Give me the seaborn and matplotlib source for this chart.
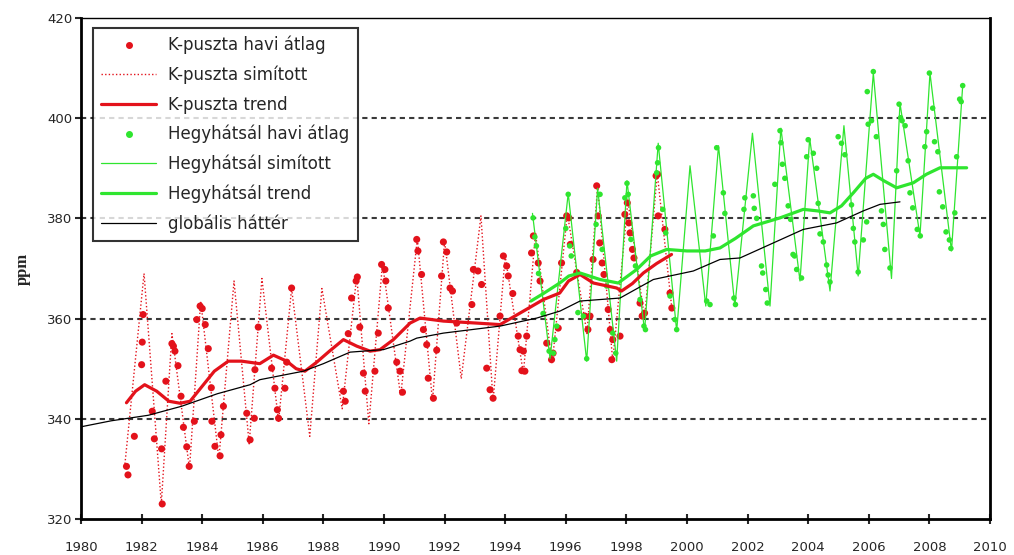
import numpy as np
import pandas as pd
import seaborn as sns
import matplotlib
matplotlib.use("Agg")
import matplotlib.pyplot as plt
from matplotlib.lines import Line2D

# ---------------- K-puszta ----------------
kp_month_t = [1981.50, 1981.55, 1981.76, 1982.00, 1982.02, 1982.05, 1982.35, 1982.42, 1982.66, 1982.68,
              1982.80, 1983.00, 1983.05, 1983.10, 1983.20, 1983.30, 1983.38, 1983.49, 1983.57, 1983.74,
              1983.82, 1983.93, 1984.00, 1984.10, 1984.20, 1984.30, 1984.32, 1984.42, 1984.59, 1984.62,
              1984.70, 1985.47, 1985.58, 1985.72, 1985.74, 1985.85, 1986.29, 1986.40, 1986.48, 1986.52,
              1986.73, 1986.79, 1986.95, 1988.66, 1988.72, 1988.82, 1988.93, 1989.08, 1989.12, 1989.20,
              1989.32, 1989.38, 1989.70, 1989.81, 1989.92, 1990.03, 1990.06, 1990.14, 1990.42, 1990.53,
              1990.61, 1991.08, 1991.12, 1991.24, 1991.30, 1991.41, 1991.46, 1991.63, 1991.74, 1991.90,
              1991.96, 1992.07, 1992.18, 1992.26, 1992.40, 1992.90, 1992.95, 1993.10, 1993.22, 1993.39,
              1993.50, 1993.60, 1993.83, 1993.94, 1994.05, 1994.10, 1994.25, 1994.43, 1994.49, 1994.55,
              1994.60, 1994.65, 1994.71, 1994.87, 1994.93, 1995.09, 1995.15, 1995.37, 1995.53, 1995.58,
              1995.75, 1995.86, 1996.03, 1996.10, 1996.15, 1996.36, 1996.63, 1996.73, 1996.80, 1996.90,
              1997.02, 1997.07, 1997.12, 1997.20, 1997.26, 1997.40, 1997.47, 1997.52, 1997.55, 1997.79,
              1997.95, 1998.03, 1998.08, 1998.12, 1998.20, 1998.25, 1998.45, 1998.52, 1998.60, 1998.98,
              1999.03, 1999.05, 1999.27, 1999.44, 1999.50]
kp_month_ppm = [330.5, 328.8, 336.5, 350.8, 355.3, 360.8, 341.5, 336.0, 334.0, 323.0,
                347.5, 355.0, 354.5, 353.5, 350.6, 344.5, 338.3, 334.4, 330.5, 339.5,
                359.8, 362.5, 362.0, 358.8, 354.0, 346.2, 339.5, 334.5, 332.6, 336.8,
                342.5, 341.1, 335.8, 340.1, 349.8, 358.3, 350.1, 346.1, 341.8, 340.1,
                346.1, 351.3, 366.1, 345.5, 343.5, 357.0, 364.1, 367.5, 368.3, 358.3,
                349.1, 345.5, 349.5, 357.1, 370.8, 369.8, 367.5, 362.1, 351.3, 349.5,
                345.3, 375.8, 373.5, 368.8, 357.8, 354.8, 348.1, 344.1, 353.7, 368.5,
                375.3, 373.3, 366.1, 365.5, 359.1, 362.8, 369.8, 369.5, 366.8, 350.1,
                345.8, 344.1, 360.5, 372.5, 370.5, 368.5, 365.0, 356.5, 353.8, 349.6,
                353.5, 349.5, 356.5, 373.1, 376.5, 371.1, 367.5, 355.1, 351.8, 353.1,
                358.1, 371.1, 380.5, 380.1, 374.8, 369.2, 360.5, 357.8, 360.5, 371.8,
                386.5, 380.5, 375.1, 371.1, 368.8, 361.8, 357.8, 351.8, 355.8, 356.5,
                380.8, 383.1, 379.1, 377.1, 373.8, 372.1, 363.1, 360.5, 361.1, 388.5,
                388.8, 380.5, 377.8, 365.1, 362.1]

kp_smooth_t = [1981.45, 1982.08, 1982.65, 1983.00, 1983.58, 1983.95, 1984.55, 1985.05, 1985.55, 1985.97,
               1986.52, 1986.95, 1987.55, 1987.95, 1988.62, 1989.10, 1989.50, 1989.95, 1990.55, 1991.10,
               1991.60, 1992.00, 1992.55, 1993.20, 1993.60, 1994.00, 1994.60, 1995.00, 1995.55, 1996.05,
               1996.70, 1997.05, 1997.55, 1998.05, 1998.60, 1999.02, 1999.50]
kp_smooth_ppm = [331.0, 369.0, 323.0, 357.0, 330.0, 363.5, 332.0, 367.5, 335.0, 368.0,
                 339.5, 366.0, 336.5, 366.0, 342.0, 368.5, 339.0, 371.0, 344.5, 376.0,
                 343.5, 375.5, 348.0, 380.5, 343.5, 372.5, 349.0, 377.0, 351.0, 381.0,
                 357.0, 386.5, 351.5, 383.5, 360.0, 389.0, 362.0]

kp_trend_t = [1981.50, 1981.80, 1982.10, 1982.50, 1982.90, 1983.27, 1983.60, 1984.00, 1984.40, 1984.86,
              1985.30, 1985.90, 1986.35, 1986.79, 1987.10, 1987.39, 1987.78, 1988.20, 1988.66, 1989.10,
              1989.54, 1989.87, 1990.31, 1990.86, 1991.19, 1991.96, 1993.06, 1993.83, 1994.49, 1995.26,
              1995.80, 1996.09, 1996.47, 1996.91, 1997.68, 1997.84, 1998.20, 1998.56, 1999.00, 1999.49]
kp_trend_ppm = [343.2, 345.5, 346.8, 345.5, 343.5, 343.1, 343.5, 346.5, 349.5, 351.5,
                351.5, 351.0, 352.7, 351.5, 350.0, 349.5, 351.3, 353.5, 355.8, 354.5,
                353.5, 353.8, 355.8, 359.1, 360.1, 359.5, 359.1, 358.8, 361.1, 363.8,
                365.1, 367.5, 368.8, 367.1, 366.1, 365.5, 367.0, 369.1, 371.0, 372.8]

# ---------------- Hegyhátsál ----------------
hh_month_t = [1994.92, 1994.98, 1995.03, 1995.10, 1995.25, 1995.45, 1995.59, 1995.64, 1995.70, 1996.00,
              1996.08, 1996.13, 1996.18, 1996.40, 1996.58, 1996.69, 1997.00, 1997.13, 1997.20, 1997.35,
              1997.55, 1997.65, 1997.95, 1998.02, 1998.06, 1998.15, 1998.30, 1998.45, 1998.58, 1998.63,
              1999.00, 1999.03, 1999.06, 1999.20, 1999.30, 1999.44, 1999.60, 1999.66, 2000.65, 2000.76,
              2000.87, 2000.98, 2001.20, 2001.25, 2001.55, 2001.60, 2001.88, 2001.91, 2002.19, 2002.22,
              2002.30, 2002.46, 2002.50, 2002.60, 2002.65, 2002.90, 2003.07, 2003.10, 2003.15, 2003.23,
              2003.34, 2003.42, 2003.50, 2003.55, 2003.62, 2003.78, 2003.95, 2004.00, 2004.17, 2004.28,
              2004.33, 2004.39, 2004.50, 2004.61, 2004.66, 2004.72, 2004.99, 2005.10, 2005.21, 2005.43,
              2005.49, 2005.54, 2005.65, 2005.82, 2005.93, 2005.95, 2005.98, 2006.09, 2006.15, 2006.25,
              2006.42, 2006.48, 2006.53, 2006.70, 2006.92, 2007.00, 2007.05, 2007.10, 2007.20, 2007.30,
              2007.36, 2007.45, 2007.60, 2007.70, 2007.85, 2007.91, 2008.00, 2008.11, 2008.17, 2008.28,
              2008.33, 2008.44, 2008.55, 2008.66, 2008.71, 2008.84, 2008.90, 2009.00, 2009.05, 2009.10]
hh_month_ppm = [380.1, 376.3, 374.5, 369.0, 361.0, 353.5, 353.1, 355.8, 358.5, 378.0,
                384.8, 374.5, 372.5, 361.2, 360.5, 352.0, 378.8, 384.8, 373.8, 366.5,
                357.1, 353.1, 384.1, 387.0, 384.8, 375.8, 370.5, 363.8, 358.5, 357.8,
                389.1, 391.1, 394.1, 381.8, 377.1, 364.5, 359.8, 357.8, 363.5, 362.8,
                376.5, 394.1, 385.1, 381.0, 364.1, 362.8, 381.8, 384.1, 384.5, 382.0,
                380.0, 370.5, 369.1, 365.8, 363.1, 386.8, 397.5, 395.1, 390.8, 388.0,
                382.5, 379.8, 372.8, 372.5, 369.8, 368.1, 392.3, 395.7, 393.0, 390.0,
                383.0, 376.9, 375.3, 370.7, 368.7, 367.3, 396.3, 395.0, 392.7, 382.7,
                378.0, 375.3, 369.3, 375.7, 379.3, 405.3, 398.8, 399.5, 409.3, 396.3,
                381.5, 378.8, 373.8, 370.1, 389.5, 402.8, 400.1, 399.5, 398.5, 391.5,
                385.1, 382.1, 377.8, 376.5, 394.3, 397.3, 409.0, 402.0, 395.3, 393.3,
                385.3, 382.3, 377.3, 375.7, 374.0, 381.1, 392.3, 403.8, 403.3, 406.5]

hh_smooth_t = [1994.90, 1995.48, 1996.08, 1996.69, 1997.05, 1997.68, 1998.02, 1998.60, 1999.05, 1999.66,
               2000.10, 2000.62, 2001.04, 2001.58, 2002.16, 2002.74, 2003.10, 2003.73, 2004.05, 2004.72,
               2005.18, 2005.65, 2006.15, 2006.75, 2007.03, 2007.69, 2008.02, 2008.73, 2009.10]
hh_smooth_ppm = [381.0, 352.0, 385.0, 351.5, 386.0, 351.5, 387.5, 357.5, 395.0, 357.5,
                 390.5, 362.5, 394.5, 362.5, 397.0, 362.5, 398.0, 367.5, 396.0, 365.5,
                 398.5, 368.5, 409.0, 368.0, 403.0, 376.5, 409.0, 373.5, 406.5]

hh_trend_t = [1994.85, 1995.26, 1995.80, 1996.10, 1996.47, 1997.13, 1997.73, 1998.34, 1998.80, 1999.33,
              2000.00, 2000.60, 2001.09, 2001.60, 2002.19, 2003.07, 2003.84, 2004.30, 2004.72, 2005.10,
              2005.49, 2005.90, 2006.15, 2006.50, 2006.92, 2007.47, 2007.90, 2008.35, 2009.23]
hh_trend_ppm = [363.5, 365.0, 367.1, 368.5, 369.1, 367.8, 367.1, 369.8, 372.5, 373.8,
                373.5, 373.5, 374.1, 376.0, 378.5, 380.1, 381.8, 381.5, 381.1, 382.5,
                385.1, 388.0, 388.8, 387.5, 386.1, 387.1, 388.8, 390.1, 390.1]

# ---------------- global background ----------------
glob_t = [1980.00, 1981.00, 1982.22, 1983.32, 1984.50, 1985.58, 1985.90, 1987.34, 1988.00, 1988.88,
          1989.98, 1990.86, 1991.08, 1991.96, 1993.83, 1995.04, 1995.81, 1996.47, 1997.79, 1998.89,
          2000.21, 2001.09, 2001.75, 2002.74, 2003.84, 2004.94, 2005.82, 2006.37, 2007.03]
glob_ppm = [338.4, 339.6, 340.7, 342.5, 345.0, 346.8, 347.8, 349.5, 351.0, 353.3,
            353.8, 355.5, 356.1, 357.1, 358.5, 360.1, 361.5, 363.5, 364.1, 367.8,
            369.5, 371.8, 372.1, 374.8, 377.8, 379.1, 381.5, 382.8, 383.3]

labels = ["K-puszta havi átlag", "K-puszta simított", "K-puszta trend",
          "Hegyhátsál havi átlag", "Hegyhátsál simított", "Hegyhátsál trend",
          "globális háttér"]
x_ticks = list(range(1980, 2011, 2))
y_ticks = list(range(320, 421, 20))
grid_levels = [340, 360, 380, 400]

RED = "#e3121b"
GREEN = "#2fe52f"

sns.set_theme(style="white")
plt.rcParams["font.family"] = ["DejaVu Sans"]

fig = plt.figure(figsize=(10.14, 5.55), dpi=100)
ax = fig.add_axes([0.0799, 0.0649, 0.8964, 0.9027])

for lvl in grid_levels:
    ax.axhline(lvl, color="#3a3a3a", linewidth=1.5, linestyle=(0, (2.5, 2)), zorder=1)

kp_m = pd.DataFrame({"t": kp_month_t, "ppm": kp_month_ppm})
kp_s = pd.DataFrame({"t": kp_smooth_t, "ppm": kp_smooth_ppm})
kp_r = pd.DataFrame({"t": kp_trend_t, "ppm": kp_trend_ppm})
hh_m = pd.DataFrame({"t": hh_month_t, "ppm": hh_month_ppm})
hh_s = pd.DataFrame({"t": hh_smooth_t, "ppm": hh_smooth_ppm})
hh_r = pd.DataFrame({"t": hh_trend_t, "ppm": hh_trend_ppm})
gl = pd.DataFrame({"t": glob_t, "ppm": glob_ppm})

sns.lineplot(data=kp_s, x="t", y="ppm", ax=ax, sort=False, estimator=None,
             color=RED, linewidth=1.0, linestyle=(0, (1, 1.6)), zorder=2)
sns.scatterplot(data=kp_m, x="t", y="ppm", ax=ax, color=RED, s=26,
                edgecolor="none", zorder=3)
sns.lineplot(data=hh_s, x="t", y="ppm", ax=ax, sort=False, estimator=None,
             color=GREEN, linewidth=0.9, zorder=4)
sns.scatterplot(data=hh_m, x="t", y="ppm", ax=ax, color=GREEN, s=16,
                edgecolor="none", zorder=5)
sns.lineplot(data=kp_r, x="t", y="ppm", ax=ax, sort=False, estimator=None,
             color=RED, linewidth=2.3, zorder=6)
sns.lineplot(data=hh_r, x="t", y="ppm", ax=ax, sort=False, estimator=None,
             color=GREEN, linewidth=2.3, zorder=6)
sns.lineplot(data=gl, x="t", y="ppm", ax=ax, sort=False, estimator=None,
             color="black", linewidth=0.9, zorder=7)

ax.set_xlim(1980, 2010)
ax.set_ylim(320, 420)
ax.set_xticks(x_ticks)
ax.set_yticks(y_ticks)
ax.set_xlabel("")
ax.set_ylabel("ppm", fontsize=12, fontweight="bold", family="Liberation Serif")
ax.yaxis.set_label_coords(-0.055, 0.5)
ax.tick_params(axis="x", direction="inout", length=7, width=1.5, labelsize=9.5, pad=12, bottom=True)
ax.tick_params(axis="y", direction="out", length=4, width=1.5, labelsize=9.5, pad=2, left=True)
for sp in ax.spines.values():
    sp.set_color("black")
    sp.set_linewidth(2)
ax.spines["top"].set_linewidth(1)

handles = [
    Line2D([], [], linestyle="none", marker="o", markersize=4, color=RED),
    Line2D([], [], color=RED, linewidth=1.0, linestyle=(0, (1, 1.6))),
    Line2D([], [], color=RED, linewidth=2.3),
    Line2D([], [], linestyle="none", marker="o", markersize=4, color=GREEN),
    Line2D([], [], color=GREEN, linewidth=0.9),
    Line2D([], [], color=GREEN, linewidth=2.3),
    Line2D([], [], color="black", linewidth=0.9),
]
leg = ax.legend(handles, labels, loc="upper left", bbox_to_anchor=(0.013, 0.981),
                borderaxespad=0, fontsize=12, frameon=True, fancybox=False,
                handlelength=3.3, handletextpad=0.72, labelspacing=0.68,
                borderpad=0.5)
leg.get_frame().set_edgecolor("black")
leg.get_frame().set_linewidth(1.5)
leg.set_zorder(10)

fig.savefig("out.png", dpi=100)
